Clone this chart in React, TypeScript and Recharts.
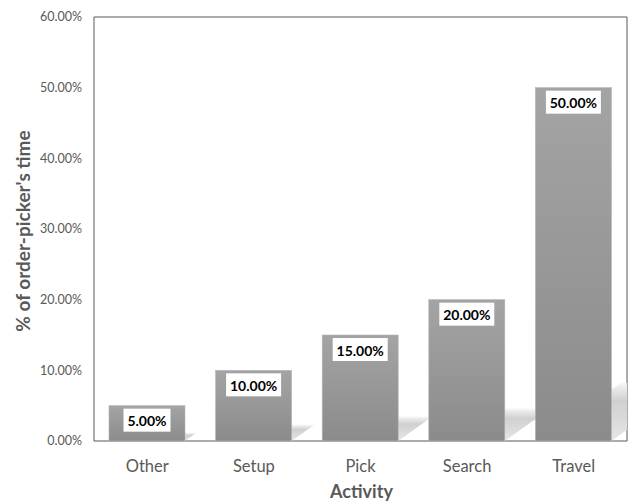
import { BarChart, Bar, XAxis, YAxis, LabelList, ReferenceArea } from "recharts";

const activities = ["Other", "Setup", "Pick", "Search", "Travel"];
const timeShare = [0.05, 0.1, 0.15, 0.2, 0.5];
const yTicks = [0, 0.1, 0.2, 0.3, 0.4, 0.5, 0.6];

const data = activities.map((name, i) => ({ name, share: timeShare[i] }));

const W = 629;
const H = 501;
const M = { top: 17, right: 2, left: 0, bottom: 0 };
const Y_AXIS_W = 94;
const X_AXIS_H = 60;
const plot = {
  x: M.left + Y_AXIS_W,
  y: M.top,
  w: W - M.left - M.right - Y_AXIS_W,
  h: H - M.top - M.bottom - X_AXIS_H,
};

const pct = (v: number) => `${(v * 100).toFixed(2)}%`;
const textGray = "#595959";

// bar with a soft skewed floor shadow behind it
function ShadowBar(props: any) {
  const { x, y, width, height } = props;
  const base = y + height;
  const hs = Math.min(height * 0.23, 58);
  const dx = hs * 1.4;
  const pts = [
    [x + 4, base],
    [x + width, base],
    [x + width + dx, base - hs],
    [x + dx + 4, base - hs],
  ]
    .map((p) => p.join(","))
    .join(" ");
  return (
    <g>
      <polygon points={pts} fill="url(#shadowGrad)" clipPath="url(#plotClip)" />
      <rect x={x} y={y} width={width} height={height} fill="url(#barGrad)" stroke="#b4b4b4" strokeWidth={0.6} />
    </g>
  );
}

function ValueBox(props: any) {
  const { x, y, width, value } = props;
  const label = pct(value);
  const bw = label.length * 8 + 7;
  const cx = x + width / 2;
  return (
    <g>
      <rect x={cx - bw / 2} y={y + 3} width={bw} height={23} fill="#ffffff" />
      <text
        x={cx}
        y={y + 15}
        textAnchor="middle"
        dominantBaseline="central"
        fontSize={14}
        fontWeight={700}
        fill="#000000"
      >
        {label}
      </text>
    </g>
  );
}

export default function App() {
  return (
    <div
      style={{
        position: "absolute",
        left: 0,
        top: 0,
        width: W,
        height: H,
        background: "#ffffff",
        fontFamily: "Lato, 'Open Sans', sans-serif",
      }}
    >
      <BarChart width={W} height={H} data={data} margin={M} barSize={76}>
        <defs>
          <linearGradient id="barGrad" x1="0" y1="0" x2="0" y2="1">
            <stop offset="0%" stopColor="#a4a4a4" />
            <stop offset="100%" stopColor="#8b8b8b" />
          </linearGradient>
          <linearGradient id="shadowGrad" x1="0" y1="0" x2="0" y2="1">
            <stop offset="0%" stopColor="#f6f6f6" />
            <stop offset="30%" stopColor="#d0d0d0" />
            <stop offset="100%" stopColor="#e6e6e6" />
          </linearGradient>
          <clipPath id="plotClip">
            <rect x={plot.x} y={plot.y} width={plot.w} height={plot.h} />
          </clipPath>
        </defs>
        <XAxis
          dataKey="name"
          height={X_AXIS_H}
          axisLine={false}
          tickLine={false}
          tickMargin={13}
          tick={{ fontSize: 16.5, fill: textGray }}
          label={{
            position: "insideBottom",
            content: (p: any) => {
              const vb = p.viewBox;
              return (
                <text
                  x={vb.x + vb.width / 2 + 1}
                  y={vb.y + 50}
                  textAnchor="middle"
                  dominantBaseline="central"
                  fontSize={18}
                  fontWeight={700}
                  fill={textGray}
                >
                  Activity
                </text>
              );
            },
          }}
        />
        <YAxis
          width={Y_AXIS_W}
          domain={[0, 0.6]}
          ticks={yTicks}
          tickFormatter={pct}
          axisLine={false}
          tickLine={false}
          tickMargin={6}
          tick={{ fontSize: 12.5, fill: textGray }}
          label={{
            position: "insideLeft",
            content: (p: any) => {
              const vb = p.viewBox;
              const cx = vb.x + 22;
              const cy = vb.y + vb.height / 2 + 2;
              return (
                <text
                  x={cx}
                  y={cy}
                  transform={`rotate(-90 ${cx} ${cy})`}
                  textAnchor="middle"
                  dominantBaseline="central"
                  fontSize={19}
                  fontWeight={700}
                  fill={textGray}
                >
                  % of order-picker's time
                </text>
              );
            },
          }}
        />
        <Bar dataKey="share" shape={<ShadowBar />} isAnimationActive={false}>
          <LabelList dataKey="share" content={<ValueBox />} />
        </Bar>
        <ReferenceArea y1={0} y2={0.6} fill="none" stroke="#595959" strokeWidth={1} ifOverflow="visible" />
      </BarChart>
    </div>
  );
}
